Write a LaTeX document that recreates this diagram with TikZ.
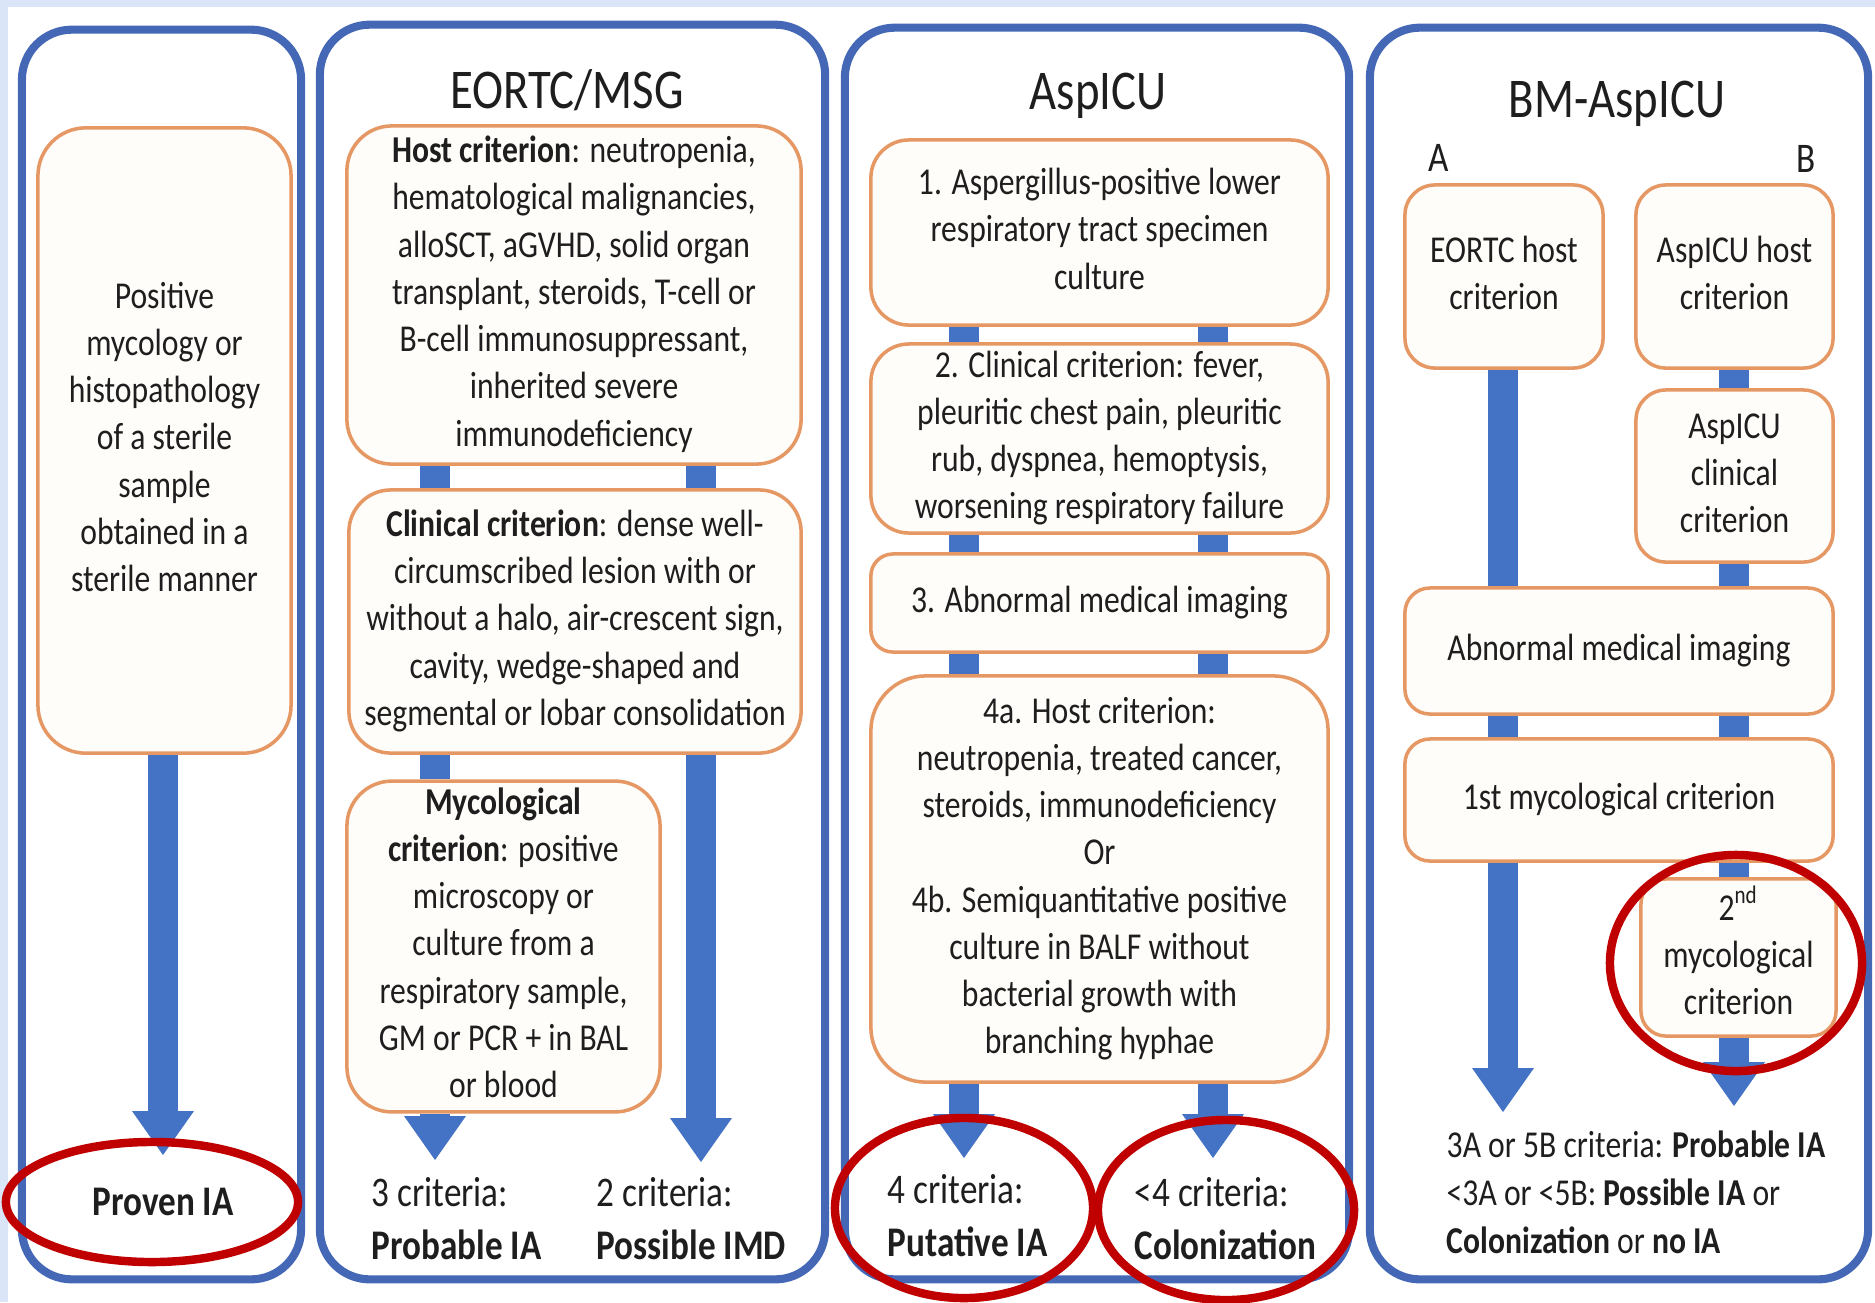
\documentclass[tikz,border=0pt]{standalone}
\usepackage{fontspec}
\setmainfont{Carlito}
\usepackage{graphicx}
\usetikzlibrary{calc}
\definecolor{pblue}{RGB}{68,104,182}
\definecolor{ablue}{RGB}{68,114,196}
\definecolor{obord}{RGB}{230,152,100}
\definecolor{ofill}{RGB}{255,253,249}
\definecolor{rred}{RGB}{192,0,0}
\definecolor{bgblue}{RGB}{218,230,248}
\definecolor{txt}{RGB}{30,30,30}
\newcommand{\vst}[1]{\scalebox{1}[1.2]{\begin{tabular}{@{}c@{}}#1\end{tabular}}}
\newcommand{\vsl}[1]{\scalebox{1}[1.2]{\begin{tabular}{@{}l@{}}#1\end{tabular}}}
\newcommand{\blockarrow}[2]{%
  \draw[shaft] (#1) -- ($(#2)+(0,-43)$);
  \fill[ablue] ($(#2)+(-31,-44)$) -- ($(#2)+(31,-44)$) -- (#2) -- cycle;}
\begin{document}
\begin{tikzpicture}[x=0.01cm, y=-0.01cm,
  panel/.style={draw=pblue, line width=2.3pt, fill=white, rounded corners=0.5cm, inner sep=0pt},
  box/.style={draw=obord, line width=1pt, fill=ofill, inner sep=0pt, align=center, text=txt, font=\fontsize{9}{11.2}\selectfont},
  shaft/.style={draw=ablue, line width=8.8pt},
  title/.style={text=txt, font=\fontsize{13.3}{16}\selectfont, inner sep=0pt},
  res/.style={text=txt, font=\fontsize{10}{12.6}\selectfont, inner sep=0pt, anchor=west},
  ring/.style={draw=rred, line width=2.4pt}
]
\useasboundingbox (0,0) rectangle (1875,1302);
\fill[white] (0,0) rectangle (1875,1302);
\fill[bgblue] (0,0) rectangle (1875,7);
\fill[bgblue] (0,0) rectangle (8,1302);

% panels
\node[panel, minimum width=2.79cm, minimum height=12.49cm] (P1) at (161.5,654.5) {};
\node[panel, minimum width=5.05cm, minimum height=12.54cm] (P2) at (572.5,652) {};
\node[panel, minimum width=5.04cm, minimum height=12.51cm] (P3) at (1097,653.5) {};
\node[panel, minimum width=4.98cm, minimum height=12.51cm] (P4) at (1619,653.5) {};

% ---------- panel 1
\node[box, rounded corners=0.48cm, minimum width=2.53cm, minimum height=6.25cm] (p1box) at (164.5,440.5)
  {\vst{Positive\\ mycology or\\ histopathology\\ of a sterile\\ sample\\ obtained in a\\ sterile manner}};
\coordinate (tip1) at (163,1155);
\blockarrow{p1box.south -| tip1}{tip1}
\node[res, anchor=center, font=\fontsize{10}{12.6}\selectfont\bfseries] (proven) at (163,1202) {\scalebox{1}[1.2]{Proven IA}};
\draw[ring] (152,1202) ellipse [x radius=1.46cm, y radius=0.6cm];

% ---------- panel 2
\node[title] (t2) at (567,90) {\scalebox{1}[1.2]{EORTC/MSG}};
\node[box, rounded corners=0.45cm, minimum width=4.54cm, minimum height=3.38cm] (host2) at (574,295)
  {\vst{\textbf{Host criterion}: neutropenia,\\ hematological malignancies,\\ alloSCT, aGVHD, solid organ\\ transplant, steroids, T-cell or\\ B-cell immunosuppressant,\\ inherited severe\\ immunodeficiency}};
\node[box, rounded corners=0.42cm, minimum width=4.52cm, minimum height=2.63cm] (clin2) at (575,621.5)
  {\vst{\textbf{Clinical criterion}: dense well-\\ circumscribed lesion with or\\ without a halo, air-crescent sign,\\ cavity, wedge-shaped and\\ segmental or lobar consolidation}};
\node[box, rounded corners=0.45cm, minimum width=3.13cm, minimum height=3.27cm] (myco2) at (503.5,946.5)
  {\vst{\textbf{Mycological}\\ \textbf{criterion}: positive\\ microscopy or\\ culture from a\\ respiratory sample,\\ GM or PCR + in BAL\\ or blood}};
\coordinate (xl2) at (435,0);
\coordinate (xr2) at (701,0);
\draw[shaft] (host2.south -| xl2) -- (clin2.north -| xl2);
\draw[shaft] (host2.south -| xr2) -- (clin2.north -| xr2);
\draw[shaft] (clin2.south -| xl2) -- (myco2.north -| xl2);
\coordinate (tipL2) at (435,1160);
\coordinate (tipR2) at (701,1162);
\blockarrow{myco2.south -| tipL2}{tipL2}
\blockarrow{clin2.south -| tipR2}{tipR2}
\node[res] (r2a) at (371,1222) {\vsl{3 criteria:\\ \textbf{Probable IA}}};
\node[res] (r2b) at (596,1222) {\vsl{2 criteria:\\ \textbf{Possible IMD}}};

% ---------- panel 3
\node[title] (t3) at (1098,96) {\scalebox{1}[1.2]{AspICU}};
\node[box, rounded corners=0.38cm, minimum width=4.57cm, minimum height=1.85cm] (b31) at (1099.5,232.5)
  {\vst{1. Aspergillus-positive lower\\ respiratory tract specimen\\ culture}};
\node[box, rounded corners=0.38cm, minimum width=4.57cm, minimum height=1.83cm] (b32) at (1099.5,438.5)
  {\vst{2. Clinical criterion: fever,\\ pleuritic chest pain, pleuritic\\ rub, dyspnea, hemoptysis,\\ worsening respiratory failure}};
\node[box, rounded corners=0.22cm, minimum width=4.57cm, minimum height=0.98cm] (b33) at (1099.5,603)
  {\vst{3. Abnormal medical imaging}};
\node[box, rounded corners=0.55cm, minimum width=4.57cm, minimum height=4.06cm] (b34) at (1099.5,879)
  {\vst{4a. Host criterion:\\ neutropenia, treated cancer,\\ steroids, immunodeficiency\\ Or\\ 4b. Semiquantitative positive\\ culture in BALF without\\ bacterial growth with\\ branching hyphae}};
\coordinate (xl3) at (964,0);
\coordinate (xr3) at (1213,0);
\foreach \a/\b in {b31/b32, b32/b33, b33/b34} {
  \draw[shaft] (\a.south -| xl3) -- (\b.north -| xl3);
  \draw[shaft] (\a.south -| xr3) -- (\b.north -| xr3);
}
\coordinate (tipL3) at (964,1158);
\coordinate (tipR3) at (1213,1158);
\blockarrow{b34.south -| tipL3}{tipL3}
\blockarrow{b34.south -| tipR3}{tipR3}
\node[res] (r3a) at (887,1219) {\vsl{4 criteria:\\ \textbf{Putative IA}}};
\node[res] (r3b) at (1134,1222) {\vsl{<4 criteria:\\ \textbf{Colonization}}};
\draw[ring] (964,1208) ellipse [x radius=1.29cm, y radius=0.9cm];
\draw[ring] (1226,1210) ellipse [x radius=1.28cm, y radius=0.9cm];

% ---------- panel 4
\node[title] (t4) at (1617,104) {\scalebox{1}[1.2]{BM-AspICU}};
\node[res, anchor=center] (lA) at (1439,158) {\scalebox{1}[1.2]{A}};
\node[res, anchor=center] (lB) at (1806,159) {\scalebox{1}[1.2]{B}};
\node[box, rounded corners=0.3cm, minimum width=1.98cm, minimum height=1.83cm] (eh4) at (1504,276.5)
  {\vst{EORTC host\\ criterion}};
\node[box, rounded corners=0.3cm, minimum width=1.97cm, minimum height=1.83cm] (ah4) at (1734.5,276.5)
  {\vst{AspICU host\\ criterion}};
\node[box, rounded corners=0.3cm, minimum width=1.97cm, minimum height=1.72cm] (ac4) at (1734.5,476)
  {\vst{AspICU\\ clinical\\ criterion}};
\node[box, rounded corners=0.25cm, minimum width=4.28cm, minimum height=1.26cm] (im4) at (1619,651)
  {\vst{Abnormal medical imaging}};
\node[box, rounded corners=0.25cm, minimum width=4.28cm, minimum height=1.22cm] (m14) at (1619,800)
  {\vst{1st mycological criterion}};
\node[box, rounded corners=0.25cm, minimum width=1.95cm, minimum height=1.57cm] (m24) at (1738.5,957.5)
  {\vst{2\textsuperscript{nd}\\ mycological\\ criterion}};
\coordinate (xa4) at (1503,0);
\coordinate (xb4) at (1734,0);
\draw[shaft] (ah4.south -| xb4) -- (ac4.north -| xb4);
\draw[shaft] (ac4.south -| xb4) -- (im4.north -| xb4);
\draw[shaft] (eh4.south -| xa4) -- (im4.north -| xa4);
\draw[shaft] (im4.south -| xa4) -- (m14.north -| xa4);
\draw[shaft] (im4.south -| xb4) -- (m14.north -| xb4);
\draw[shaft] (m14.south -| xb4) -- (m24.north -| xb4);
\coordinate (tipA) at (1503,1112);
\coordinate (tipB) at (1734,1106);
\blockarrow{m14.south -| tipA}{tipA}
\blockarrow{m24.south -| tipB}{tipB}
\node[res, font=\fontsize{9}{11.3}\selectfont] (r4) at (1446,1196)
  {\vsl{3A or 5B criteria: \textbf{Probable IA}\\ <3A or <5B: \textbf{Possible IA} or\\ \textbf{Colonization} or \textbf{no IA}}};
\draw[ring] (1736,963) ellipse [x radius=1.26cm, y radius=1.08cm];
\end{tikzpicture}
\end{document}
